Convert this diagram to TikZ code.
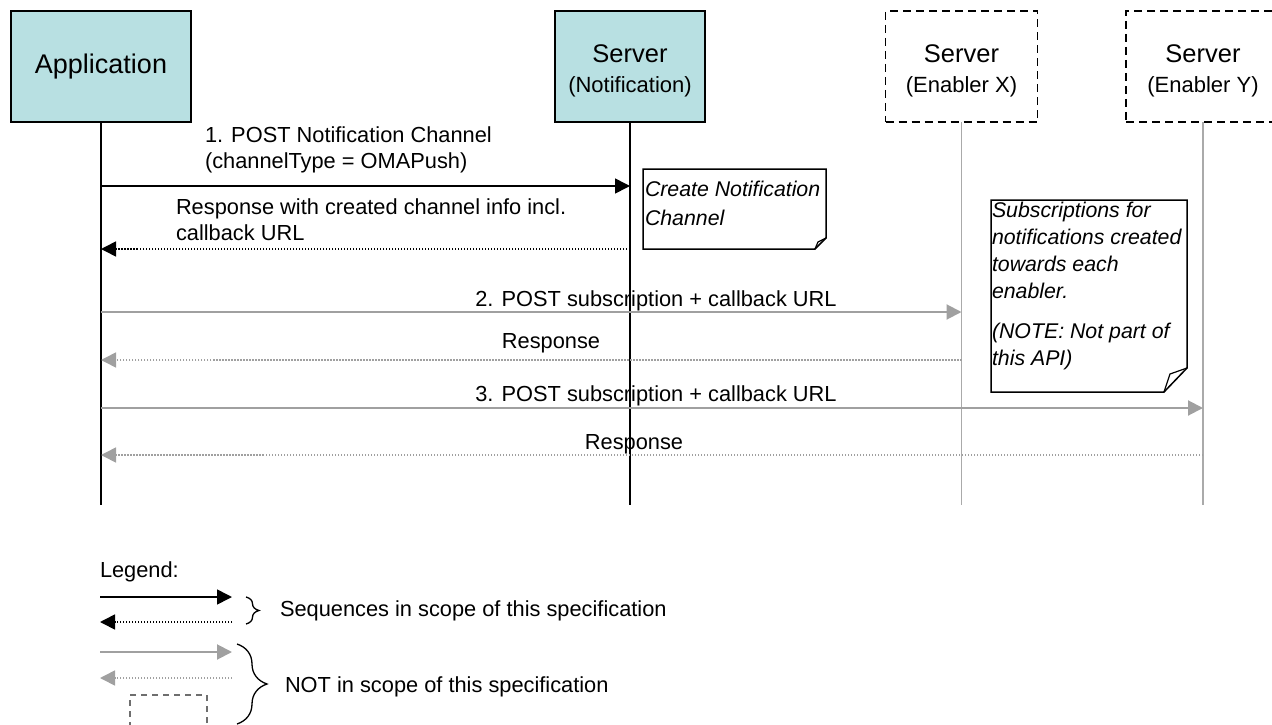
\documentclass[tikz,border=0pt]{standalone}
\usepackage{fontspec}
\setmainfont{Liberation Sans}
\usetikzlibrary{arrows.meta,decorations.pathreplacing}
\definecolor{tealfill}{RGB}{184,224,226}
\definecolor{greyline}{RGB}{160,160,160}
\definecolor{greylife}{RGB}{170,170,170}
\definecolor{greybox}{RGB}{110,110,110}
\begin{document}
\begin{tikzpicture}[x=1pt,y=-1pt,
  every node/.style={inner sep=0pt,outer sep=0pt},
  actorbox/.style={draw=black,line width=1.5pt,fill=tealfill,minimum width=#1,minimum height=111pt,align=center},
  dashbox/.style={draw=black,line width=1.6pt,dash pattern=on 8pt off 5pt,minimum width=#1,minimum height=111pt,align=center},
  titlefont/.style={font=\fontsize{25.5}{29.5}\selectfont},
  subfont/.style={font=\fontsize{22}{25}\selectfont},
  lblfont/.style={font=\fontsize{21.8}{26}\selectfont},
  life/.style={line width=1.5pt,draw=black},
  glife/.style={line width=1.5pt,draw=greylife},
  msg/.style={line width=1.6pt,draw=black,-{Triangle[length=15pt,width=15pt]}},
  rsp/.style={line width=1.6pt,draw=black,dash pattern=on 1.5pt off 1.5pt,-{Triangle[length=15pt,width=15pt]}},
  gmsg/.style={line width=2pt,draw=greyline,-{Triangle[length=15pt,width=15pt,fill=greyline]}},
  grsp/.style={line width=1.6pt,draw=greyline,dash pattern=on 1.5pt off 1.5pt,-{Triangle[length=15pt,width=15pt,fill=greyline]}},
  noteline/.style={draw=black,line width=1.5pt,fill=white},
  notefont/.style={font=\itshape\fontsize{21.3}{27}\selectfont},
  bracestyle/.style={draw=black,line width=1.3pt,decorate}
]
\useasboundingbox (0,0) rectangle (1272,725);
\clip (0,0) rectangle (1272,725);

% actors
\node[actorbox=180pt,font=\fontsize{27}{30}\selectfont] (app) at (101,66.5) {Application};
\node[actorbox=150pt,titlefont] (notif) at (630,66.5) {\rule{0pt}{27pt}Server\\{\fontsize{22}{25}\selectfont (Notification)}};
\node[dashbox=152pt,titlefont] (enx) at (961.5,66.5) {\rule{0pt}{27pt}Server\\{\fontsize{22}{25}\selectfont (Enabler X)}};
\node[dashbox=154pt,titlefont] (eny) at (1203,66.5) {\rule{0pt}{27pt}Server\\{\fontsize{22}{25}\selectfont (Enabler Y)}};

% lifeline ends
\coordinate (appE) at (101,505);
\coordinate (notifE) at (630,505);
\coordinate (enxE) at (961.5,505);
\coordinate (enyE) at (1203,505);
\draw[life] (app.south) -- (appE);
\draw[life] (notif.south) -- (notifE);
\draw[glife] (enx.south) -- (enxE);
\draw[glife] (eny.south) -- (enyE);

% message points
\coordinate (a1) at (101,186);  \coordinate (n1) at (630,186);
\coordinate (a2) at (101,249);  \coordinate (n2) at (630,249);
\coordinate (a3) at (101,312);  \coordinate (x3) at (961.5,312);
\coordinate (a4) at (101,360);  \coordinate (x4) at (961.5,360);
\coordinate (a5) at (101,408);  \coordinate (y5) at (1203,408);
\coordinate (a6) at (101,455);  \coordinate (y6) at (1203,455);

\draw[msg] (a1) -- (n1);
\draw[rsp] (n2) -- (a2);
\draw[gmsg] (a3) -- (x3);
\draw[grsp] (x4) -- (a4);
\draw[gmsg] (a5) -- (y5);
\draw[grsp] (y6) -- (a6);

% labels
\node[lblfont,align=left,anchor=north west] (l1) at (205,127) {1. POST Notification Channel\\(channelType = OMAPush)};
\node[lblfont,align=left,anchor=north west] (l2) at (176,199) {Response with created channel info incl.\\callback URL};
\node[lblfont,anchor=base] (l3) at (656,306) {2. POST subscription + callback URL};
\node[lblfont,anchor=base] (l4) at (551,348) {Response};
\node[lblfont,anchor=base] (l5) at (656,401) {3. POST subscription + callback URL};
\node[lblfont,anchor=base] (l6) at (634,449) {Response};

% note 1
\node[minimum width=183pt,minimum height=80pt] (note1) at (734.5,209) {};
\draw[noteline] (note1.north west) -- (note1.north east) -- ([yshift=11pt]note1.south east) -- ([xshift=-11pt]note1.south east) -- (note1.south west) -- cycle;
\draw[draw=black,line width=1.2pt] ([xshift=-11pt]note1.south east) -- ([xshift=-8pt,yshift=7pt]note1.south east) -- ([yshift=11pt]note1.south east);
\node[font=\itshape\fontsize{21.3}{29}\selectfont,align=left,anchor=north west] (note1t) at ([xshift=2pt,yshift=-12pt]note1.north west) {Create Notification\\Channel};

% note 2
\node[minimum width=196pt,minimum height=192pt] (note2) at (1089,296) {};
\draw[noteline] (note2.north west) -- (note2.north east) -- ([yshift=24pt]note2.south east) -- ([xshift=-23pt]note2.south east) -- (note2.south west) -- cycle;
\draw[draw=black,line width=1.2pt] ([xshift=-23pt]note2.south east) -- ([xshift=-17pt,yshift=18pt]note2.south east) -- ([yshift=24pt]note2.south east);
\node[notefont,align=left,anchor=north west] (note2t) at ([xshift=1pt,yshift=-2pt]note2.north west) {Subscriptions for\\notifications created\\towards each\\enabler.\\[13pt](NOTE: Not part of\\this API)};

% legend
\node[lblfont,anchor=base west] (leg) at (100,577) {Legend:};
\coordinate (k1a) at (100,597); \coordinate (k1b) at (232,597);
\coordinate (k2a) at (100,622); \coordinate (k2b) at (232,622);
\coordinate (k3a) at (100,652); \coordinate (k3b) at (232,652);
\coordinate (k4a) at (100,678); \coordinate (k4b) at (232,678);
\draw[msg] (k1a) -- (k1b);
\draw[rsp] (k2b) -- (k2a);
\draw[gmsg] (k3a) -- (k3b);
\draw[grsp] (k4b) -- (k4a);
\node[draw=greybox,line width=1.3pt,dash pattern=on 6pt off 5pt,minimum width=77pt,minimum height=50pt] (legbox) at (168.5,720) {};

\coordinate (b1t) at (246,597); \coordinate (b1b) at (246,624);
\draw[bracestyle,decoration={brace,amplitude=13pt}] (b1t) -- (b1b);
\node[lblfont,anchor=west] (s1) at (280,611) {Sequences in scope of this specification};
\coordinate (b2t) at (237,644); \coordinate (b2b) at (237,724);
\draw[bracestyle,decoration={brace,amplitude=30pt}] (b2t) -- (b2b);
\node[lblfont,anchor=west] (s2) at (285,687) {NOT in scope of this specification};
\end{tikzpicture}
\end{document}
